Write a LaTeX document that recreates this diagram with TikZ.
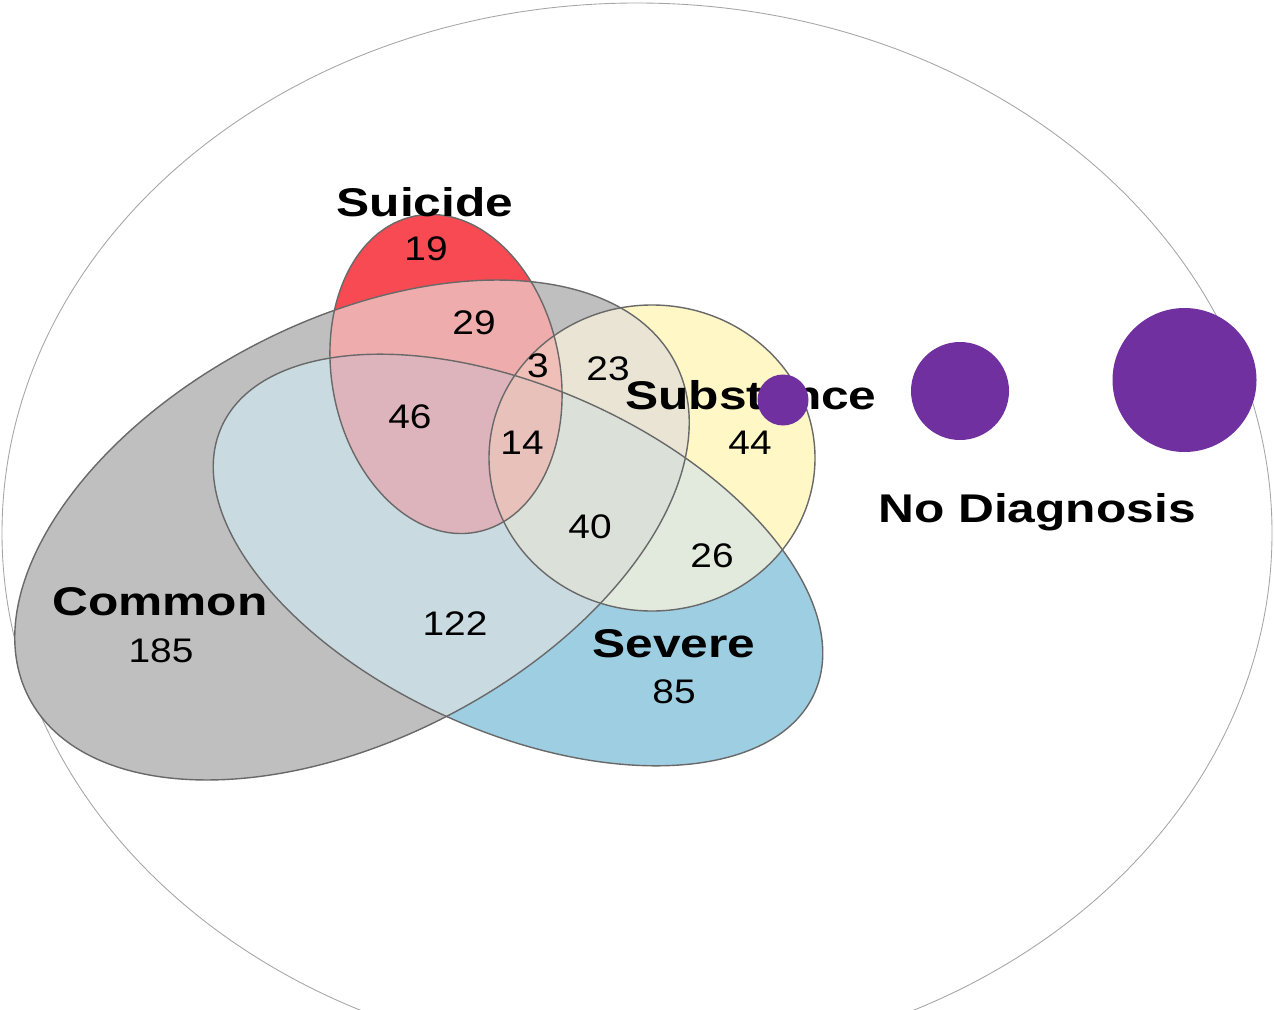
\documentclass[tikz,border=0pt]{standalone}
\usepackage{fontspec}
\setmainfont{Liberation Sans}

\definecolor{colC}{RGB}{191,191,191}
\definecolor{colS}{RGB}{248,74,82}
\definecolor{colU}{RGB}{255,247,198}
\definecolor{colV}{RGB}{158,206,226}
\definecolor{colCS}{RGB}{239,172,173}
\definecolor{colCU}{RGB}{233,228,212}
\definecolor{colCV}{RGB}{201,218,225}
\definecolor{colUV}{RGB}{226,234,222}
\definecolor{colCSU}{RGB}{240,192,184}
\definecolor{colCSV}{RGB}{221,180,187}
\definecolor{colCUV}{RGB}{219,225,216}
\definecolor{colCSUV}{RGB}{233,193,187}
\definecolor{edge}{RGB}{105,105,105}
\definecolor{dot}{RGB}{112,48,160}

\newcommand{\pCommon}{(352,530) circle [x radius=364, y radius=209, rotate=27.4]}
\newcommand{\pSuicide}{(446,374) circle [x radius=114, y radius=161, rotate=11]}
\newcommand{\pSubst}{(652,458) circle [x radius=163, y radius=153]}
\newcommand{\pSevere}{(518,560) circle [x radius=325, y radius=172, rotate=-24.2]}

\begin{document}
\begin{tikzpicture}[x=0.02cm, y=-0.02cm,
  setname/.style={font=\bfseries\fontsize{22.8}{24}\selectfont, xscale=1.24, anchor=base, inner sep=0pt},
  regnum/.style={font=\fontsize{19.4}{20}\selectfont, xscale=1.14, anchor=base, inner sep=0pt},
  rim/.style={draw=edge, line width=0.8pt}]
\clip (0,0) rectangle (1274,1010);
% whole sample
\draw[gray!70, line width=0.5pt] (637,533) circle [x radius=635, y radius=530];

% one set
\fill[colC] \pCommon;
\fill[colS] \pSuicide;
\fill[colU] \pSubst;
\fill[colV] \pSevere;
% two sets
\begin{scope} \clip \pCommon; \fill[colCS] \pSuicide; \end{scope}
\begin{scope} \clip \pCommon; \fill[colCU] \pSubst; \end{scope}
\begin{scope} \clip \pCommon; \fill[colCV] \pSevere; \end{scope}
\begin{scope} \clip \pSubst; \fill[colUV] \pSevere; \end{scope}
% three sets
\begin{scope} \clip \pCommon; \clip \pSuicide; \fill[colCSU] \pSubst; \end{scope}
\begin{scope} \clip \pCommon; \clip \pSuicide; \fill[colCSV] \pSevere; \end{scope}
\begin{scope} \clip \pCommon; \clip \pSubst; \fill[colCUV] \pSevere; \end{scope}
% all four
\begin{scope} \clip \pCommon; \clip \pSuicide; \clip \pSubst; \fill[colCSUV] \pSevere; \end{scope}

\draw[rim] \pCommon;
\draw[rim] \pSuicide;
\draw[rim] \pSubst;
\draw[rim] \pSevere;

% set names
\node[setname] (suicide) at (425,216) {Suicide};
\node[setname] (substance) at (751,409) {Substance};
\node[setname] (common) at (160,615) {Common};
\node[setname] (severe) at (674,657) {Severe};
\node[setname] (nodiag) at (1037,522) {No Diagnosis};

% counts
\node[regnum] (n19) at (426,260) {19};
\node[regnum] (n29) at (474,334) {29};
\node[regnum] (n3) at (538,377) {3};
\node[regnum] (n23) at (608,380) {23};
\node[regnum] (n44) at (750,454) {44};
\node[regnum] (n46) at (410,428) {46};
\node[regnum] (n14) at (522,454) {14};
\node[regnum] (n40) at (590,538) {40};
\node[regnum] (n26) at (712,567) {26};
\node[regnum] (n122) at (455,635) {122};
\node[regnum] (n185) at (161,662) {185};
\node[regnum] (n85) at (674,703) {85};

% dots
\fill[dot] (783,400) circle (25.5);
\fill[dot] (960,391) circle (49);
\fill[dot] (1184.5,380) circle (72);
\end{tikzpicture}
\end{document}
